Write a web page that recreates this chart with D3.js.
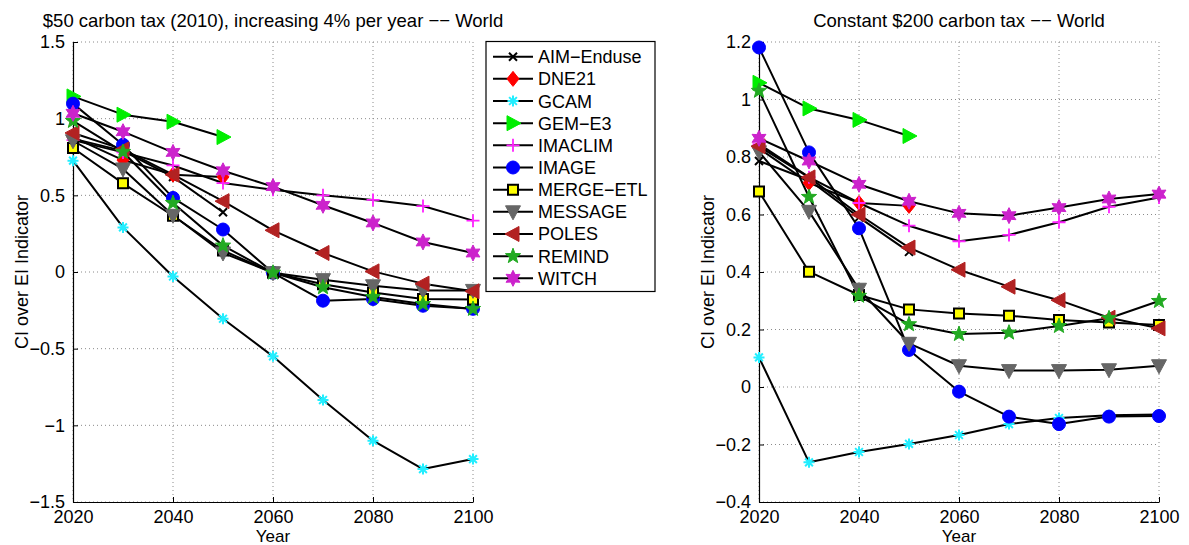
<!DOCTYPE html>
<html><head><meta charset="utf-8">
<script src="https://cdn.jsdelivr.net/npm/d3@7"></script>
<style>
html,body{margin:0;padding:0;background:#fff;}
svg{display:block;font-family:"Liberation Sans",Arial,Helvetica,sans-serif;}
</style></head>
<body>
<svg id="chart" width="1189" height="545"></svg>
<script>
// ---------- data ----------
const years = [2020, 2030, 2040, 2050, 2060, 2070, 2080, 2090, 2100];
const models = ["AIM-Enduse","DNE21","GCAM","GEM-E3","IMACLIM","IMAGE","MERGE-ETL","MESSAGE","POLES","REMIND","WITCH"];

// Left panel: $50 carbon tax (2010), increasing 4% per year
const leftAIM     = [0.87, 0.79, 0.62, 0.39, null, null, null, null, null];
const leftDNE21   = [0.88, 0.73, 0.635, 0.62, null, null, null, null, null];
const leftGCAM    = [0.726, 0.291, -0.029, -0.305, -0.55, -0.835, -1.10, -1.285, -1.22];
const leftGEME3   = [1.145, 1.026, 0.98, 0.88, null, null, null, null, null];
const leftIMACLIM = [0.86, 0.78, 0.695, 0.58, 0.537, 0.50, 0.47, 0.43, 0.335];
const leftIMAGE   = [1.098, 0.83, 0.483, 0.277, -0.005, -0.187, -0.176, -0.22, -0.24];
const leftMERGE   = [0.809, 0.578, 0.367, 0.14, -0.005, -0.08, -0.133, -0.176, -0.18];
const leftMESSAGE = [0.856, 0.672, 0.37, 0.124, -0.005, -0.05, -0.09, -0.12, -0.12];
const leftPOLES   = [0.907, 0.80, 0.635, 0.462, 0.272, 0.124, 0.004, -0.076, -0.126];
const leftREMIND  = [0.985, 0.783, 0.45, 0.172, -0.005, -0.10, -0.163, -0.209, -0.241];
const leftWITCH   = [1.035, 0.915, 0.78, 0.66, 0.557, 0.435, 0.32, 0.196, 0.124];

// Right panel: Constant $200 carbon tax
const rightAIM     = [0.786, 0.72, 0.59, 0.47, null, null, null, null, null];
const rightDNE21   = [0.83, 0.71, 0.64, 0.63, null, null, null, null, null];
const rightGCAM    = [0.103, -0.262, -0.226, -0.198, -0.167, -0.129, -0.108, -0.098, -0.096];
const rightGEME3   = [1.058, 0.969, 0.929, 0.873, null, null, null, null, null];
const rightIMACLIM = [0.845, 0.73, 0.64, 0.561, 0.507, 0.529, 0.573, 0.627, 0.659];
const rightIMAGE   = [1.181, 0.816, 0.552, 0.129, -0.016, -0.103, -0.129, -0.103, -0.101];
const rightMERGE   = [0.68, 0.401, 0.32, 0.27, 0.256, 0.248, 0.233, 0.224, 0.216];
const rightMESSAGE = [0.818, 0.611, 0.34, 0.152, 0.074, 0.057, 0.057, 0.06, 0.074];
const rightPOLES   = [0.837, 0.729, 0.6, 0.485, 0.408, 0.349, 0.302, 0.241, 0.204];
const rightREMIND  = [1.03, 0.661, 0.317, 0.218, 0.184, 0.189, 0.212, 0.239, 0.299];
const rightWITCH   = [0.865, 0.786, 0.705, 0.646, 0.604, 0.596, 0.624, 0.654, 0.671];

const leftTitle = "$50 carbon tax (2010), increasing 4% per year \u2212\u2212 World";
const rightTitle = "Constant $200 carbon tax \u2212\u2212 World";
const xTicks = [2020, 2040, 2060, 2080, 2100];
const leftYTicks = [-1.5, -1, -0.5, 0, 0.5, 1, 1.5];
const rightYTicks = [-0.4, -0.2, 0, 0.2, 0.4, 0.6, 0.8, 1, 1.2];
const xLabel = "Year";
const yLabel = "CI over EI Indicator";

// ---------- styles ----------
const styles = {
  "AIM-Enduse": {shape:"x",      fill:"none",    stroke:"#000000"},
  "DNE21":      {shape:"diamond",fill:"#ff0000",stroke:"#ff0000"},
  "GCAM":       {shape:"aster",  fill:"#22eeff",stroke:"#22eeff"},
  "GEM-E3":     {shape:"triR",   fill:"#00ee00",stroke:"#00ee00"},
  "IMACLIM":    {shape:"plus",   fill:"none",    stroke:"#ff22ff"},
  "IMAGE":      {shape:"circle", fill:"#0000ff",stroke:"#0000ff"},
  "MERGE-ETL":  {shape:"square", fill:"#ffff00",stroke:"#000000"},
  "MESSAGE":    {shape:"triD",   fill:"#666666",stroke:"#666666"},
  "POLES":      {shape:"triL",   fill:"#b22222",stroke:"#b22222"},
  "REMIND":     {shape:"star5",  fill:"#22aa22",stroke:"#22aa22"},
  "WITCH":      {shape:"star6",  fill:"#cc22cc",stroke:"#cc22cc"}
};

function markerPath(shape){
  const p = d3.path();
  if (shape==="circle"){ p.arc(0,0,6.5,0,2*Math.PI); p.closePath(); }
  else if (shape==="diamond"){ p.moveTo(0,-7.5); p.lineTo(6,0); p.lineTo(0,7.5); p.lineTo(-6,0); p.closePath(); }
  else if (shape==="square"){ p.rect(-5,-5,10,10); }
  else if (shape==="triR"){ p.moveTo(8,0); p.lineTo(-6,-7.5); p.lineTo(-6,7.5); p.closePath(); }
  else if (shape==="triL"){ p.moveTo(-8,0); p.lineTo(6,-7.5); p.lineTo(6,7.5); p.closePath(); }
  else if (shape==="triD"){ p.moveTo(0,8); p.lineTo(-7.5,-6); p.lineTo(7.5,-6); p.closePath(); }
  else if (shape==="plus"){ p.moveTo(-6.5,0); p.lineTo(6.5,0); p.moveTo(0,-6.5); p.lineTo(0,6.5); }
  else if (shape==="x"){ p.moveTo(-4,-4); p.lineTo(4,4); p.moveTo(-4,4); p.lineTo(4,-4); }
  else if (shape==="aster"){ for(let k=0;k<4;k++){const a=k*Math.PI/4; p.moveTo(-5.5*Math.cos(a),-5.5*Math.sin(a)); p.lineTo(5.5*Math.cos(a),5.5*Math.sin(a));} }
  else if (shape==="star5"){ const R=8,r=3.3; for(let k=0;k<10;k++){const a=-Math.PI/2+k*Math.PI/5; const rr=k%2?r:R; if(k===0)p.moveTo(rr*Math.cos(a),rr*Math.sin(a)); else p.lineTo(rr*Math.cos(a),rr*Math.sin(a));} p.closePath(); }
  else if (shape==="star6"){ const R=8,r=4.3; for(let k=0;k<12;k++){const a=-Math.PI/2+k*Math.PI/6; const rr=k%2?r:R; if(k===0)p.moveTo(rr*Math.cos(a),rr*Math.sin(a)); else p.lineTo(rr*Math.cos(a),rr*Math.sin(a));} p.closePath(); }
  return p.toString();
}

function drawMarker(g, name, x, y){
  const s = styles[name];
  const el = g.append("path").attr("d", markerPath(s.shape)).attr("transform", `translate(${x},${y})`);
  if (s.shape==="plus"||s.shape==="x"||s.shape==="aster"){
    el.attr("fill","none").attr("stroke",s.stroke).attr("stroke-width", s.shape==="x"?2:(s.shape==="aster"?2:1.8));
  } else {
    el.attr("fill",s.fill).attr("stroke",s.stroke).attr("stroke-width", s.shape==="square"?2:1);
  }
}

const svg = d3.select("#chart");
const fmtTick = d => String(d).replace("-", "\u2212");

function panel(opts){
  const {x0,x1,y0,y1,ydom,yticks,title,series} = opts;
  const x = d3.scaleLinear().domain([2020,2100]).range([x0,x1]);
  const y = d3.scaleLinear().domain(ydom).range([y1,y0]);
  const g = svg.append("g");

  // grid
  g.append("g").selectAll("line").data(yticks).join("line")
    .attr("x1",x0).attr("x2",x1).attr("y1",d=>y(d)).attr("y2",d=>y(d))
    .attr("stroke","#8a8a8a").attr("stroke-width",1).attr("stroke-dasharray","1,3");
  g.append("g").selectAll("line").data(xTicks).join("line")
    .attr("x1",d=>x(d)).attr("x2",d=>x(d)).attr("y1",y0).attr("y2",y1)
    .attr("stroke","#8a8a8a").attr("stroke-width",1).attr("stroke-dasharray","1,3");

  // axes
  const ax = g.append("g").attr("transform",`translate(0,${y1})`)
    .call(d3.axisBottom(x).tickValues(xTicks).tickFormat(d3.format("d")).tickSizeInner(-5).tickSizeOuter(0).tickPadding(8));
  const ay = g.append("g").attr("transform",`translate(${x0},0)`)
    .call(d3.axisLeft(y).tickValues(yticks).tickFormat(fmtTick).tickSizeInner(-5).tickSizeOuter(0).tickPadding(8));
  [ax,ay].forEach(a=>{
    a.select(".domain").attr("stroke","#000").attr("stroke-width",1.2);
    a.selectAll(".tick line").attr("stroke","#000").attr("stroke-width",1);
    a.selectAll(".tick text").attr("font-size",18).attr("fill","#000").attr("font-family","Liberation Sans, Arial, sans-serif");
  });

  // lines and markers
  const line = d3.line().defined(d=>d.v!==null).x(d=>x(d.yr)).y(d=>y(d.v));
  series.forEach(([name,vals])=>{
    const pts = years.map((yr,i)=>({yr, v: vals[i]}));
    g.append("path").datum(pts).attr("d",line).attr("fill","none")
      .attr("stroke","#000").attr("stroke-width",2).attr("stroke-linejoin","round");
  });
  series.forEach(([name,vals])=>{
    years.forEach((yr,i)=>{ if(vals[i]!==null) drawMarker(g,name,x(yr),y(vals[i])); });
  });

  // titles
  g.append("text").attr("x",(x0+x1)/2).attr("y",27).attr("text-anchor","middle")
    .attr("font-size",18.5).attr("fill","#000").text(title);
  g.append("text").attr("x",(x0+x1)/2).attr("y",542).attr("text-anchor","middle")
    .attr("font-size",17).attr("fill","#000").text(xLabel);
  g.append("text").attr("transform",`translate(${x0-45},${(y0+y1)/2}) rotate(-90)`)
    .attr("text-anchor","middle").attr("font-size",18).attr("fill","#000").text(yLabel);
}

panel({x0:73,x1:473,y0:42,y1:502,ydom:[-1.5,1.5],yticks:leftYTicks,title:leftTitle,
  series:[["AIM-Enduse",leftAIM],["DNE21",leftDNE21],["GCAM",leftGCAM],["GEM-E3",leftGEME3],["IMACLIM",leftIMACLIM],
          ["IMAGE",leftIMAGE],["MERGE-ETL",leftMERGE],["MESSAGE",leftMESSAGE],["POLES",leftPOLES],["REMIND",leftREMIND],["WITCH",leftWITCH]]});
panel({x0:759,x1:1159,y0:42,y1:502,ydom:[-0.4,1.2],yticks:rightYTicks,title:rightTitle,
  series:[["AIM-Enduse",rightAIM],["DNE21",rightDNE21],["GCAM",rightGCAM],["GEM-E3",rightGEME3],["IMACLIM",rightIMACLIM],
          ["IMAGE",rightIMAGE],["MERGE-ETL",rightMERGE],["MESSAGE",rightMESSAGE],["POLES",rightPOLES],["REMIND",rightREMIND],["WITCH",rightWITCH]]});

// legend
const lg = svg.append("g");
lg.append("rect").attr("x",486).attr("y",41.5).attr("width",169).attr("height",250)
  .attr("fill","#fff").attr("stroke","#000").attr("stroke-width",1.2);
const ly = d3.scaleLinear().domain([0,models.length-1]).range([56.7,278.3]);
models.forEach((m,i)=>{
  const yy = ly(i);
  lg.append("line").attr("x1",493).attr("x2",533).attr("y1",yy).attr("y2",yy).attr("stroke","#000").attr("stroke-width",2);
  drawMarker(lg,m,513,yy);
  lg.append("text").attr("x",538).attr("y",yy+6.5).attr("font-size",18).attr("fill","#000")
    .text(m.replace("-","\u2212"));
});
</script>
</body></html>
